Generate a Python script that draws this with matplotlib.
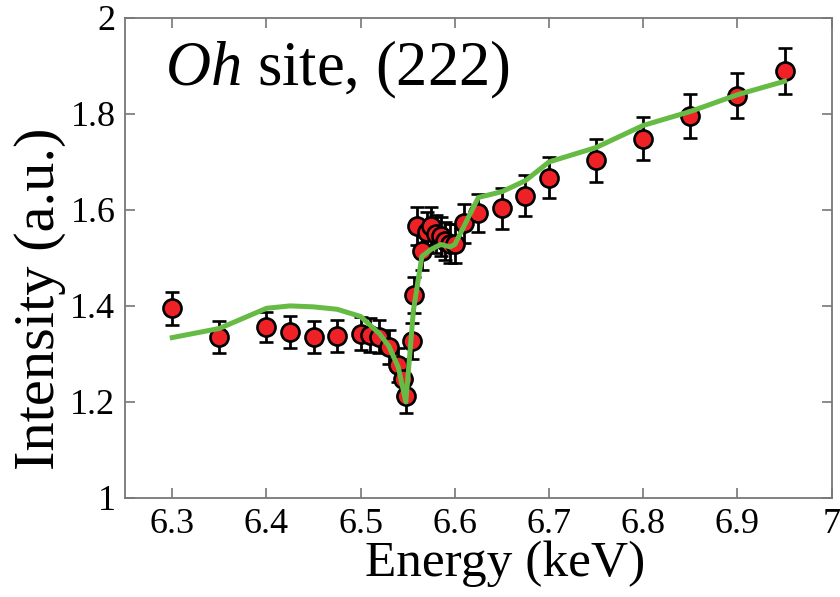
#!/usr/bin/env python3
"""
Oh site (222) intensity vs energy: measured points with error bars and calculated curve.
"""

import matplotlib

matplotlib.use("Agg")
import matplotlib.pyplot as plt

# measured data (keV, a.u.)
energy = [6.30, 6.35, 6.40, 6.425, 6.45, 6.475, 6.50, 6.51, 6.52, 6.53,
          6.54, 6.545, 6.548, 6.555, 6.557, 6.56, 6.565, 6.57, 6.575, 6.58,
          6.585, 6.59, 6.595, 6.60, 6.61, 6.625, 6.65, 6.675, 6.70, 6.75,
          6.80, 6.85, 6.90, 6.95]
intensity = [1.395, 1.335, 1.356, 1.345, 1.335, 1.337, 1.342, 1.340, 1.336, 1.315,
             1.277, 1.247, 1.212, 1.327, 1.423, 1.566, 1.515, 1.555, 1.566, 1.550,
             1.545, 1.535, 1.530, 1.530, 1.572, 1.593, 1.603, 1.630, 1.667, 1.703,
             1.748, 1.795, 1.838, 1.890]
error = [0.035, 0.033, 0.032, 0.033, 0.033, 0.033, 0.034, 0.035, 0.035, 0.035,
         0.035, 0.035, 0.035, 0.037, 0.038, 0.040, 0.040, 0.040, 0.040, 0.040,
         0.040, 0.040, 0.040, 0.040, 0.040, 0.040, 0.042, 0.042, 0.043, 0.044,
         0.045, 0.046, 0.047, 0.048]

# calculated curve
calc_energy = [6.30, 6.35, 6.40, 6.425, 6.45, 6.475, 6.50, 6.51, 6.52, 6.53,
               6.54, 6.548, 6.556, 6.565, 6.575, 6.585, 6.595, 6.60, 6.625, 6.65,
               6.675, 6.70, 6.75, 6.80, 6.85, 6.90, 6.95]
calc_intensity = [1.334, 1.353, 1.395, 1.400, 1.398, 1.393, 1.378, 1.360, 1.342, 1.316,
                  1.272, 1.200, 1.390, 1.503, 1.518, 1.528, 1.523, 1.528, 1.626, 1.638,
                  1.661, 1.700, 1.730, 1.776, 1.805, 1.840, 1.868]

x_ticks = [6.3, 6.4, 6.5, 6.6, 6.7, 6.8, 6.9, 7]
x_tick_labels = ["6.3", "6.4", "6.5", "6.6", "6.7", "6.8", "6.9", "7"]
y_ticks = [1, 1.2, 1.4, 1.6, 1.8, 2]
y_tick_labels = ["1", "1.2", "1.4", "1.6", "1.8", "2"]


def main():
    plt.rcParams["font.family"] = ["Liberation Serif", "DejaVu Serif"]
    plt.rcParams["mathtext.fontset"] = "custom"
    plt.rcParams["mathtext.it"] = "Liberation Serif:italic"
    plt.rcParams["mathtext.rm"] = "Liberation Serif"

    fig = plt.figure(figsize=(8.4, 5.97), dpi=100)
    ax = fig.add_axes([0.149, 0.166, 0.841, 0.804])

    ax.errorbar(energy, intensity, yerr=error, fmt="o", color="black",
                ecolor="black", elinewidth=2.0, capsize=5, capthick=2.0,
                markersize=13, markerfacecolor="#ee2127",
                markeredgecolor="black", markeredgewidth=1.9, zorder=2)
    ax.plot(calc_energy, calc_intensity, color="#66bb45", linewidth=3.6, zorder=3)

    ax.set_xlim(6.25, 7.0)
    ax.set_ylim(1, 2)
    ax.set_xticks(x_ticks)
    ax.set_xticklabels(x_tick_labels)
    ax.set_yticks(y_ticks)
    ax.set_yticklabels(y_tick_labels)
    ax.tick_params(direction="in", length=7, width=1.2, color="#777777",
                   labelsize=26, top=True, right=True, pad=7)
    for spine in ax.spines.values():
        spine.set_color("#777777")
        spine.set_linewidth(1.3)

    ax.set_xlabel("Energy (keV)", fontsize=37, labelpad=0, x=0.538)
    ax.set_ylabel("Intensity (a.u.)", fontsize=42, labelpad=3, y=0.415)

    ax.text(0.057, 0.86, r"$\mathit{Oh}$ site, (222)", transform=ax.transAxes,
            fontsize=45, va="baseline", ha="left")

    fig.savefig("out.png", dpi=100)
    plt.close(fig)


if __name__ == "__main__":
    main()
